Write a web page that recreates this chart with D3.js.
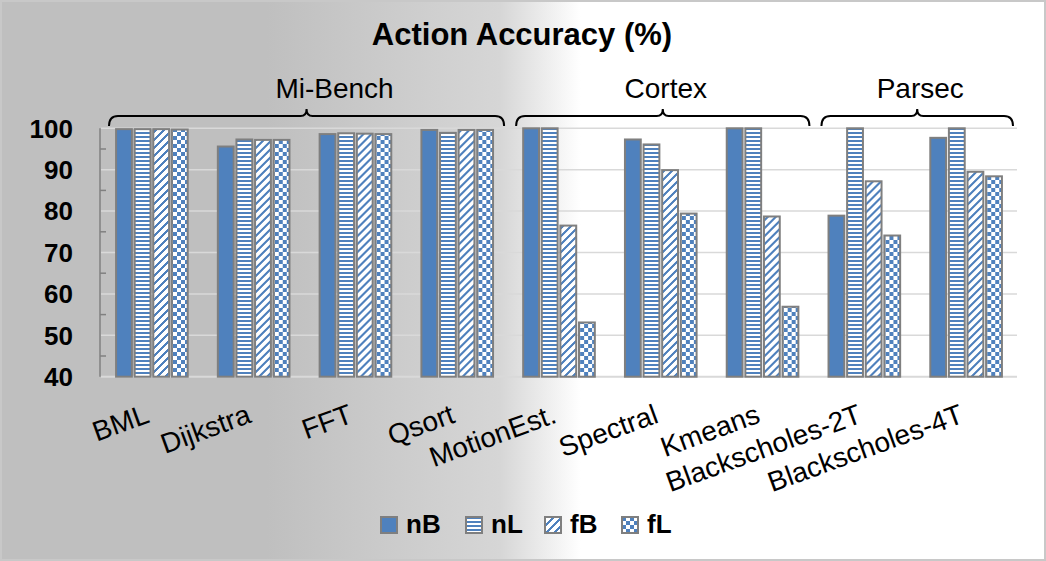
<!DOCTYPE html>
<html>
<head>
<meta charset="utf-8">
<script src="https://cdn.jsdelivr.net/npm/d3@7"></script>
<style>
  body { margin: 0; }
  svg { display: block; font-family: Arial, "Liberation Sans", sans-serif; }
</style>
</head>
<body>
<svg id="chart" width="1046" height="561"></svg>
<script>
const categories = ["BML", "Dijkstra", "FFT", "Qsort", "MotionEst.", "Spectral", "Kmeans", "Blackscholes-2T", "Blackscholes-4T"];
const seriesNames = ["nB", "nL", "fB", "fL"];
const nB = [99.8, 95.6, 98.6, 99.6, 100, 97.3, 100, 78.9, 97.7];
const nL = [99.8, 97.3, 98.8, 98.9, 100, 96.1, 100, 100, 100];
const fB = [99.8, 97.2, 98.7, 99.6, 76.5, 89.9, 78.7, 87.2, 89.5];
const fL = [99.7, 97.2, 98.6, 99.6, 53.1, 79.4, 56.9, 74.1, 88.4];
const yTicks = [40, 50, 60, 70, 80, 90, 100];
const minorTicks = [45, 55, 65, 75, 85, 95];
const groups = [
  { name: "Mi-Bench", from: "BML", to: "Qsort" },
  { name: "Cortex", from: "MotionEst.", to: "Kmeans" },
  { name: "Parsec", from: "Blackscholes-2T", to: "Blackscholes-4T" }
];

const values = { nB, nL, fB, fL };
const blue = "#4f81bd";
const W = 1046, H = 561;
const svg = d3.select("#chart");
const defs = svg.append("defs");

// background gradient like the excel chart area
const grad = defs.append("linearGradient").attr("id", "bg")
  .attr("x1", 0).attr("x2", 1).attr("y1", 0).attr("y2", 0);
[[0, "#bfbfbf"], [0.255, "#bfbfbf"], [0.478, "#d6d6d6"], [0.555, "#ffffff"], [1, "#ffffff"]]
  .forEach(([o, c]) => grad.append("stop").attr("offset", o).attr("stop-color", c));

svg.append("rect").attr("width", W).attr("height", H).attr("fill", "url(#bg)");
svg.append("rect").attr("x", 1).attr("y", 1).attr("width", W - 2).attr("height", H - 2)
  .attr("fill", "none").attr("stroke", "#c8c8c8").attr("stroke-width", 2);

// 8x8 pixel patterns (excel style)
function pattern(id, cells) {
  const p = defs.append("pattern").attr("id", id)
    .attr("patternUnits", "userSpaceOnUse").attr("width", 8).attr("height", 8);
  p.append("rect").attr("width", 8).attr("height", 8).attr("fill", "#fff");
  p.selectAll("rect.px").data(cells).join("rect").attr("class", "px")
    .attr("x", (d) => d[0]).attr("y", (d) => d[1])
    .attr("width", (d) => d[2]).attr("height", (d) => d[3])
    .attr("fill", blue).attr("shape-rendering", "crispEdges");
}
pattern("pat-nL", [[0, 0, 8, 2], [0, 4, 8, 2]]);
const diag = [];
for (let r = 0; r < 8; r++) {
  for (let k = 0; k < 3; k++) diag.push([(7 - r + k) % 8, r, 1, 1]);
}
pattern("pat-fB", diag);
pattern("pat-fL", [[0, 0, 4, 4], [4, 4, 4, 4]]);
const fills = { nB: blue, nL: "url(#pat-nL)", fB: "url(#pat-fB)", fL: "url(#pat-fL)" };

const plot = { left: 101, right: 1017, top: 128.3, bottom: 376.7 };
const x0 = d3.scaleBand().domain(categories).range([plot.left, plot.right]);
const x1 = d3.scaleBand().domain(seriesNames).range([0, x0.bandwidth()])
  .paddingInner(0.15).paddingOuter(0.81);
const y = d3.scaleLinear().domain([40, 100]).range([plot.bottom, plot.top]);

// gridlines
svg.append("g").selectAll("line").data(yTicks.filter((t) => t > 40)).join("line")
  .attr("x1", plot.left).attr("x2", plot.right)
  .attr("y1", (d) => y(d)).attr("y2", (d) => y(d))
  .attr("stroke", "#d9d9d9").attr("stroke-width", 1.5);
svg.append("line").attr("x1", plot.left).attr("x2", plot.right)
  .attr("y1", y(40)).attr("y2", y(40))
  .attr("stroke", "#d9d9d9").attr("stroke-width", 2);

// y axis
svg.append("line").attr("x1", 100).attr("x2", 100)
  .attr("y1", y(100)).attr("y2", y(40))
  .attr("stroke", "#808080").attr("stroke-width", 1.5);
svg.append("g").selectAll("line").data(minorTicks).join("line")
  .attr("x1", 100).attr("x2", 106)
  .attr("y1", (d) => y(d)).attr("y2", (d) => y(d))
  .attr("stroke", "#808080").attr("stroke-width", 1.5);
svg.append("g").selectAll("text").data(yTicks).join("text")
  .attr("x", 73).attr("y", (d) => y(d)).attr("dy", "0.36em")
  .attr("text-anchor", "end").attr("font-size", "26px").attr("font-weight", "bold")
  .text((d) => d);

// bars
const clusters = svg.append("g").selectAll("g").data(categories).join("g")
  .attr("transform", (d) => `translate(${x0(d)},0)`);
clusters.selectAll("rect")
  .data((c, i) => seriesNames.map((s) => ({ s, v: values[s][i] })))
  .join("rect")
  .attr("x", (d) => x1(d.s)).attr("width", x1.bandwidth())
  .attr("y", (d) => y(d.v)).attr("height", (d) => y(40) - y(d.v))
  .attr("fill", (d) => fills[d.s])
  .attr("stroke", "#7f7f7f").attr("stroke-width", 2);

// category labels
svg.append("g").selectAll("text").data(categories).join("text")
  .attr("transform", (d) => `translate(${x0(d) + x0.bandwidth() / 2 - 1},422) rotate(-20)`)
  .attr("text-anchor", "end").attr("font-size", "28px")
  .text((d) => d);

// group braces and labels
function bracePath(a, b, yb) {
  const m = (a + b) / 2;
  return `M${a},${yb + 10} Q${a},${yb} ${a + 9},${yb} L${m - 6},${yb} Q${m},${yb} ${m},${yb - 7}` +
    ` Q${m},${yb} ${m + 6},${yb} L${b - 9},${yb} Q${b},${yb} ${b},${yb + 10}`;
}
const g = svg.append("g").selectAll("g").data(groups).join("g");
g.append("path")
  .attr("d", (d) => bracePath(x0(d.from) + 8, x0(d.to) + x0.bandwidth() - 4, 116))
  .attr("fill", "none").attr("stroke", "#000").attr("stroke-width", 2);
g.append("text")
  .attr("x", (d, i) => (x0(d.from) + x0(d.to) + x0.bandwidth()) / 2 + (i === 0 ? 30 : 5))
  .attr("y", 98).attr("text-anchor", "middle").attr("font-size", "28px")
  .text((d) => d.name);

// title
svg.append("text").attr("x", 522).attr("y", 45).attr("text-anchor", "middle")
  .attr("font-size", "31px").attr("font-weight", "bold")
  .text("Action Accuracy (%)");

// legend
const legendX = [381, 466, 545, 622];
const lg = svg.append("g").selectAll("g").data(seriesNames).join("g")
  .attr("transform", (d, i) => `translate(${legendX[i]},517)`);
lg.append("rect").attr("width", 16).attr("height", 16)
  .attr("fill", (d) => fills[d]).attr("stroke", "#7f7f7f").attr("stroke-width", 2);
lg.append("text").attr("x", 25).attr("y", 16)
  .attr("font-size", "26px").attr("font-weight", "bold")
  .text((d) => d);
</script>
</body>
</html>
